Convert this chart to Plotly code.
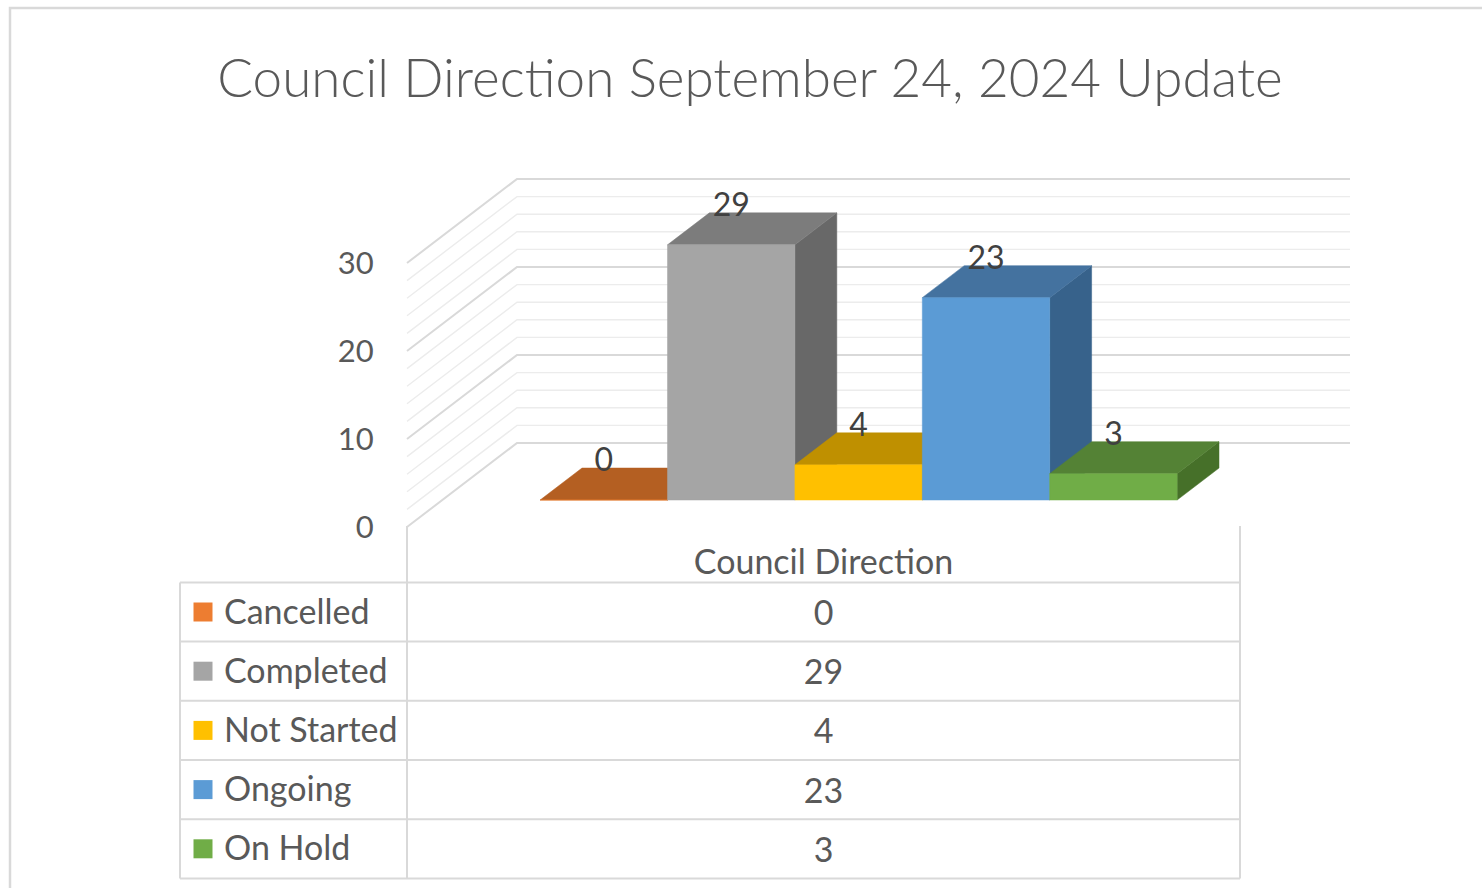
import plotly.graph_objects as go

# ---------------- data ----------------
categories = ["Cancelled", "Completed", "Not Started", "Ongoing", "On Hold"]
values = [0, 29, 4, 23, 3]
series_name = "Council Direction"
y_ticks = [0, 10, 20, 30]
title_text = "Council Direction September 24, 2024 Update"

# ---------------- styles ----------------
front_colors = ["#ED7D31", "#A5A5A5", "#FFC000", "#5B9BD5", "#70AD47"]
top_colors = ["#B45F22", "#7C7C7C", "#BF9000", "#44729F", "#548235"]
side_colors = ["#9E5321", "#686868", "#A67C00", "#37628B", "#467029"]
FONT = "Lato"
TXT = "#595959"
GRID_MAJ = "#D9D9D9"
GRID_MIN = "#ECECEC"

W, H = 1482, 888
CAT_PX = 127.4      # px per category unit
VAL_PX = 8.8        # px per value unit
X0_PX = 568.5       # px of category 0 on the front plane
Y0_PX = 527.0       # px of value 0 on the front plane

# oblique projection of depth (0 = front of floor, 1 = back wall)
DX = 110 / CAT_PX
DY = 84 / VAL_PX
D_FRONT, D_BACK = 0.321, 0.702
WALL_L = (407 - X0_PX) / CAT_PX
WALL_R = (1240 - X0_PX) / CAT_PX
V_MAX = 30


def P(c, v, d):
    return c + d * DX, v + d * DY


fig = go.Figure()

# ---- walls (gridlines on left wall + back wall) ----
for major in (False, True):
    xs, ys = [], []
    for v in range(0, V_MAX + 1, 2):
        if (v % 10 == 0) != major:
            continue
        a = P(WALL_L, v, 0)
        b = P(WALL_L, v, 1)
        c = P(WALL_R, v, 1)
        xs += [a[0], b[0], c[0], None]
        ys += [a[1], b[1], c[1], None]
    fig.add_trace(go.Scatter(
        x=xs, y=ys, mode="lines",
        line=dict(color=GRID_MAJ if major else GRID_MIN, width=2 if major else 1.4),
        hoverinfo="skip", showlegend=False))

# ---- 3D bars ----
for i, v in enumerate(values):
    c0, c1 = i - 0.5, i + 0.5
    faces = [
        ([P(c1, 0, D_FRONT), P(c1, 0, D_BACK), P(c1, v, D_BACK), P(c1, v, D_FRONT)], side_colors[i]),
        ([P(c0, v, D_FRONT), P(c1, v, D_FRONT), P(c1, v, D_BACK), P(c0, v, D_BACK)], top_colors[i]),
        ([P(c0, 0, D_FRONT), P(c1, 0, D_FRONT), P(c1, v, D_FRONT), P(c0, v, D_FRONT)], front_colors[i]),
    ]
    for pts, col in faces:
        xs = [p[0] for p in pts] + [pts[0][0]]
        ys = [p[1] for p in pts] + [pts[0][1]]
        fig.add_trace(go.Scatter(
            x=xs, y=ys, mode="lines", fill="toself", fillcolor=col,
            line=dict(color=col, width=0.5), hoverinfo="skip", showlegend=False))

# ---- data labels ----
fig.add_trace(go.Scatter(
    x=[i + D_FRONT * DX for i in range(len(values))],
    y=[v + D_BACK * DY + 0.55 for v in values],
    mode="text", text=[str(v) for v in values], textposition="middle center",
    textfont=dict(family=FONT, size=32, color="#404040"),
    hoverinfo="skip", showlegend=False))

# ---------------- data table (x2/y2: row units) ----------------
ROW_PX = 59.2
ROW0_PX = 612.0
TAB_L_PX, TAB_M_PX, TAB_R_PX = 180, 407, 1240
TW = TAB_R_PX - TAB_M_PX
tl = (TAB_L_PX - TAB_M_PX) / TW
head_top = (526 - ROW0_PX) / ROW_PX
n = len(categories)
TXT_DY = 3 / ROW_PX   # small baseline correction for text

shapes = []
line_style = dict(color=GRID_MAJ, width=2)
for r in range(n + 1):
    shapes.append(dict(type="line", xref="x2", yref="y2", x0=tl, x1=1,
                       y0=r - 0.5, y1=r - 0.5, line=line_style, layer="above"))
shapes.append(dict(type="line", xref="x2", yref="y2", x0=tl, x1=tl,
                   y0=-0.5, y1=n - 0.5, line=line_style, layer="above"))
for xv in (0, 1):
    shapes.append(dict(type="line", xref="x2", yref="y2", x0=xv, x1=xv,
                       y0=head_top, y1=n - 0.5, line=line_style, layer="above"))
# outer chart frame
shapes.append(dict(type="rect", xref="paper", yref="paper",
                   x0=10 / W, x1=1.02, y0=-0.02, y1=1 - 8 / H,
                   line=dict(color=GRID_MAJ, width=2.5), layer="above"))

# legend keys
fig.add_trace(go.Scatter(
    x=[(203 - TAB_M_PX) / TW] * n, y=list(range(n)), xaxis="x2", yaxis="y2",
    mode="markers", marker=dict(symbol="square", size=19, color=front_colors, line=dict(width=0)),
    hoverinfo="skip", showlegend=False))
# category names
fig.add_trace(go.Scatter(
    x=[(224 - TAB_M_PX) / TW] * n, y=[r + TXT_DY for r in range(n)], xaxis="x2", yaxis="y2",
    mode="text", text=categories, textposition="middle right",
    textfont=dict(family=FONT, size=34, color=TXT),
    hoverinfo="skip", showlegend=False))
# values
fig.add_trace(go.Scatter(
    x=[0.5] * n, y=[r + 1.5 * TXT_DY for r in range(n)], xaxis="x2", yaxis="y2",
    mode="text", text=[str(v) for v in values], textposition="middle center",
    textfont=dict(family=FONT, size=34, color=TXT),
    hoverinfo="skip", showlegend=False))
# header
fig.add_trace(go.Scatter(
    x=[0.5], y=[(565 - ROW0_PX) / ROW_PX], xaxis="x2", yaxis="y2",
    mode="text", text=[series_name], textposition="middle center",
    textfont=dict(family=FONT, size=34, color=TXT),
    hoverinfo="skip", showlegend=False))

fig.update_layout(
    width=W, height=H, autosize=False,
    margin=dict(l=0, r=0, t=0, b=0, pad=0),
    paper_bgcolor="white", plot_bgcolor="rgba(0,0,0,0)",
    hovermode=False, showlegend=False,
    title=dict(text=title_text, x=750 / W, y=1 - 78 / H, xanchor="center", yanchor="middle",
               font=dict(family=FONT, size=53, color=TXT, weight=300)),
    xaxis=dict(range=[(0 - X0_PX) / CAT_PX, (W - X0_PX) / CAT_PX], domain=[0, 1],
               visible=False, fixedrange=True),
    yaxis=dict(range=[(Y0_PX - H) / VAL_PX, Y0_PX / VAL_PX], domain=[0, 1],
               anchor="free", position=407 / W, side="left",
               tickvals=y_ticks, ticktext=[str(t) for t in y_ticks],
               ticks="outside", ticklen=27, tickcolor="rgba(0,0,0,0)",
               tickfont=dict(family=FONT, size=31, color=TXT),
               showline=False, showgrid=False, zeroline=False, fixedrange=True),
    xaxis2=dict(range=[(0 - TAB_M_PX) / TW, (W - TAB_M_PX) / TW], domain=[0, 1],
                overlaying="x", anchor="y2", visible=False, fixedrange=True),
    yaxis2=dict(range=[(H - ROW0_PX) / ROW_PX, (0 - ROW0_PX) / ROW_PX], domain=[0, 1],
                overlaying="y", anchor="x2", visible=False, fixedrange=True),
    shapes=shapes,
)

fig.write_html("out.html", config={"displayModeBar": False},
               post_script="document.body.style.margin='0';document.body.style.overflow='hidden';")
